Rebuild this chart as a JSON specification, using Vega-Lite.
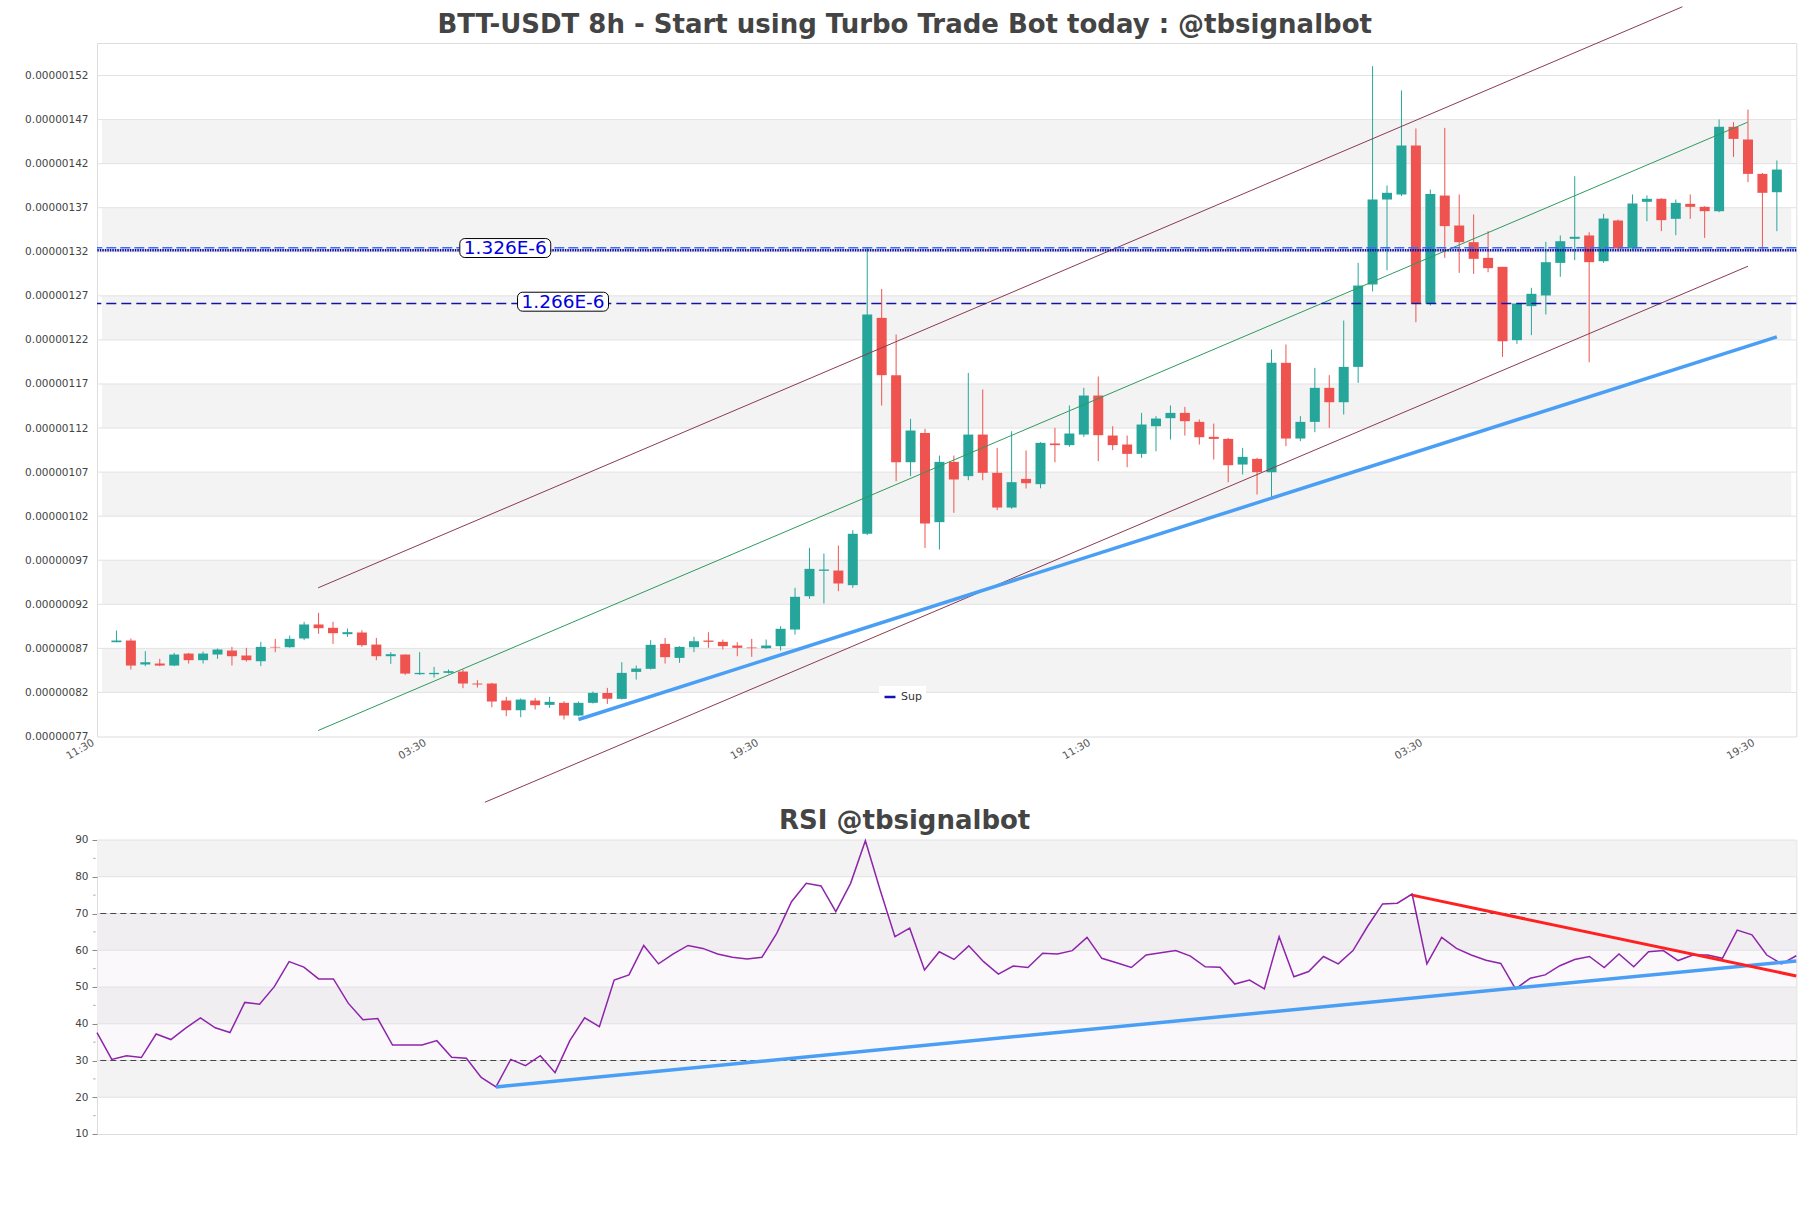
{
  "$schema": "https://vega.github.io/schema/vega-lite/v6.json",
  "background": "white",
  "padding": {"left": 24, "top": 4, "right": 14, "bottom": 10},
  "bounds": "flush",
  "spacing": 103,
  "config": {
    "view": {"stroke": "#dddddd"},
    "font": "DejaVu Sans",
    "title": {"font": "DejaVu Sans", "fontSize": 26, "fontWeight": "bold", "color": "#444444"}
  },
  "datasets": {
    "candles": [
      {"i":0,"o":8.770e-7,"h":8.902e-7,"l":8.770e-7,"c":8.789e-7},
      {"i":1,"o":8.789e-7,"h":8.812e-7,"l":8.460e-7,"c":8.505e-7},
      {"i":2,"o":8.517e-7,"h":8.668e-7,"l":8.498e-7,"c":8.543e-7},
      {"i":3,"o":8.528e-7,"h":8.581e-7,"l":8.498e-7,"c":8.505e-7},
      {"i":4,"o":8.505e-7,"h":8.649e-7,"l":8.498e-7,"c":8.630e-7},
      {"i":5,"o":8.641e-7,"h":8.649e-7,"l":8.528e-7,"c":8.566e-7},
      {"i":6,"o":8.566e-7,"h":8.664e-7,"l":8.528e-7,"c":8.641e-7},
      {"i":7,"o":8.630e-7,"h":8.698e-7,"l":8.581e-7,"c":8.687e-7},
      {"i":8,"o":8.675e-7,"h":8.717e-7,"l":8.505e-7,"c":8.611e-7},
      {"i":9,"o":8.619e-7,"h":8.706e-7,"l":8.551e-7,"c":8.566e-7},
      {"i":10,"o":8.554e-7,"h":8.774e-7,"l":8.498e-7,"c":8.717e-7},
      {"i":11,"o":8.717e-7,"h":8.808e-7,"l":8.657e-7,"c":8.710e-7},
      {"i":12,"o":8.713e-7,"h":8.846e-7,"l":8.706e-7,"c":8.808e-7},
      {"i":13,"o":8.812e-7,"h":9.001e-7,"l":8.793e-7,"c":8.971e-7},
      {"i":14,"o":8.971e-7,"h":9.103e-7,"l":8.865e-7,"c":8.929e-7},
      {"i":15,"o":8.933e-7,"h":9.001e-7,"l":8.751e-7,"c":8.872e-7},
      {"i":16,"o":8.861e-7,"h":8.925e-7,"l":8.831e-7,"c":8.884e-7},
      {"i":17,"o":8.880e-7,"h":8.906e-7,"l":8.717e-7,"c":8.736e-7},
      {"i":18,"o":8.743e-7,"h":8.819e-7,"l":8.566e-7,"c":8.611e-7},
      {"i":19,"o":8.611e-7,"h":8.657e-7,"l":8.524e-7,"c":8.634e-7},
      {"i":20,"o":8.630e-7,"h":8.630e-7,"l":8.399e-7,"c":8.414e-7},
      {"i":21,"o":8.407e-7,"h":8.657e-7,"l":8.399e-7,"c":8.422e-7},
      {"i":22,"o":8.407e-7,"h":8.490e-7,"l":8.369e-7,"c":8.422e-7},
      {"i":23,"o":8.422e-7,"h":8.460e-7,"l":8.414e-7,"c":8.441e-7},
      {"i":24,"o":8.437e-7,"h":8.460e-7,"l":8.248e-7,"c":8.301e-7},
      {"i":25,"o":8.301e-7,"h":8.339e-7,"l":8.256e-7,"c":8.290e-7},
      {"i":26,"o":8.301e-7,"h":8.309e-7,"l":8.032e-7,"c":8.097e-7},
      {"i":27,"o":8.108e-7,"h":8.150e-7,"l":7.930e-7,"c":7.998e-7},
      {"i":28,"o":7.998e-7,"h":8.131e-7,"l":7.919e-7,"c":8.119e-7},
      {"i":29,"o":8.108e-7,"h":8.138e-7,"l":8.006e-7,"c":8.055e-7},
      {"i":30,"o":8.059e-7,"h":8.150e-7,"l":8.025e-7,"c":8.093e-7},
      {"i":31,"o":8.082e-7,"h":8.101e-7,"l":7.893e-7,"c":7.938e-7},
      {"i":32,"o":7.938e-7,"h":8.097e-7,"l":7.930e-7,"c":8.082e-7},
      {"i":33,"o":8.082e-7,"h":8.210e-7,"l":8.074e-7,"c":8.195e-7},
      {"i":34,"o":8.195e-7,"h":8.252e-7,"l":8.070e-7,"c":8.127e-7},
      {"i":35,"o":8.127e-7,"h":8.543e-7,"l":8.120e-7,"c":8.422e-7},
      {"i":36,"o":8.433e-7,"h":8.505e-7,"l":8.346e-7,"c":8.471e-7},
      {"i":37,"o":8.468e-7,"h":8.793e-7,"l":8.460e-7,"c":8.740e-7},
      {"i":38,"o":8.751e-7,"h":8.819e-7,"l":8.528e-7,"c":8.600e-7},
      {"i":39,"o":8.592e-7,"h":8.725e-7,"l":8.536e-7,"c":8.717e-7},
      {"i":40,"o":8.713e-7,"h":8.831e-7,"l":8.657e-7,"c":8.781e-7},
      {"i":41,"o":8.789e-7,"h":8.883e-7,"l":8.706e-7,"c":8.774e-7},
      {"i":42,"o":8.774e-7,"h":8.800e-7,"l":8.687e-7,"c":8.725e-7},
      {"i":43,"o":8.732e-7,"h":8.770e-7,"l":8.611e-7,"c":8.706e-7},
      {"i":44,"o":8.710e-7,"h":8.808e-7,"l":8.604e-7,"c":8.702e-7},
      {"i":45,"o":8.702e-7,"h":8.800e-7,"l":8.694e-7,"c":8.732e-7},
      {"i":46,"o":8.725e-7,"h":8.952e-7,"l":8.675e-7,"c":8.922e-7},
      {"i":47,"o":8.914e-7,"h":9.387e-7,"l":8.857e-7,"c":9.285e-7},
      {"i":48,"o":9.292e-7,"h":9.840e-7,"l":9.262e-7,"c":9.602e-7},
      {"i":49,"o":9.580e-7,"h":9.776e-7,"l":9.209e-7,"c":9.595e-7},
      {"i":50,"o":9.583e-7,"h":9.867e-7,"l":9.349e-7,"c":9.436e-7},
      {"i":51,"o":9.417e-7,"h":1.0041e-6,"l":9.387e-7,"c":1.0000e-6},
      {"i":52,"o":1.0000e-6,"h":1.3248e-6,"l":9.985e-7,"c":1.2488e-6},
      {"i":53,"o":1.2450e-6,"h":1.2779e-6,"l":1.1456e-6,"c":1.1800e-6},
      {"i":54,"o":1.1800e-6,"h":1.2261e-6,"l":1.0597e-6,"c":1.0812e-6},
      {"i":55,"o":1.0812e-6,"h":1.1304e-6,"l":1.0654e-6,"c":1.1172e-6},
      {"i":56,"o":1.1145e-6,"h":1.1191e-6,"l":9.840e-7,"c":1.0117e-6},
      {"i":57,"o":1.0132e-6,"h":1.0888e-6,"l":9.822e-7,"c":1.0816e-6},
      {"i":58,"o":1.0816e-6,"h":1.0888e-6,"l":1.0238e-6,"c":1.0616e-6},
      {"i":59,"o":1.0654e-6,"h":1.1826e-6,"l":1.0608e-6,"c":1.1126e-6},
      {"i":60,"o":1.1126e-6,"h":1.1637e-6,"l":1.0608e-6,"c":1.0692e-6},
      {"i":61,"o":1.0692e-6,"h":1.0975e-6,"l":1.0268e-6,"c":1.0298e-6},
      {"i":62,"o":1.0298e-6,"h":1.1164e-6,"l":1.0283e-6,"c":1.0586e-6},
      {"i":63,"o":1.0623e-6,"h":1.0945e-6,"l":1.0514e-6,"c":1.0574e-6},
      {"i":64,"o":1.0563e-6,"h":1.1040e-6,"l":1.0517e-6,"c":1.1032e-6},
      {"i":65,"o":1.1025e-6,"h":1.1202e-6,"l":1.0812e-6,"c":1.1006e-6},
      {"i":66,"o":1.1006e-6,"h":1.1456e-6,"l":1.0986e-6,"c":1.1138e-6},
      {"i":67,"o":1.1126e-6,"h":1.1656e-6,"l":1.1100e-6,"c":1.1569e-6},
      {"i":68,"o":1.1569e-6,"h":1.1785e-6,"l":1.0824e-6,"c":1.1119e-6},
      {"i":69,"o":1.1115e-6,"h":1.1221e-6,"l":1.0949e-6,"c":1.1006e-6},
      {"i":70,"o":1.1013e-6,"h":1.1115e-6,"l":1.0756e-6,"c":1.0907e-6},
      {"i":71,"o":1.0907e-6,"h":1.1372e-6,"l":1.0862e-6,"c":1.1240e-6},
      {"i":72,"o":1.1221e-6,"h":1.1335e-6,"l":1.0937e-6,"c":1.1308e-6},
      {"i":73,"o":1.1312e-6,"h":1.1456e-6,"l":1.1070e-6,"c":1.1372e-6},
      {"i":74,"o":1.1372e-6,"h":1.1440e-6,"l":1.1115e-6,"c":1.1278e-6},
      {"i":75,"o":1.1270e-6,"h":1.1297e-6,"l":1.1013e-6,"c":1.1096e-6},
      {"i":76,"o":1.1100e-6,"h":1.1251e-6,"l":1.0843e-6,"c":1.1077e-6},
      {"i":77,"o":1.1077e-6,"h":1.1089e-6,"l":1.0585e-6,"c":1.0778e-6},
      {"i":78,"o":1.0786e-6,"h":1.0975e-6,"l":1.0673e-6,"c":1.0873e-6},
      {"i":79,"o":1.0850e-6,"h":1.0862e-6,"l":1.0446e-6,"c":1.0699e-6},
      {"i":80,"o":1.0699e-6,"h":1.2091e-6,"l":1.0408e-6,"c":1.1940e-6},
      {"i":81,"o":1.1940e-6,"h":1.2148e-6,"l":1.0994e-6,"c":1.1081e-6},
      {"i":82,"o":1.1081e-6,"h":1.1335e-6,"l":1.1051e-6,"c":1.1270e-6},
      {"i":83,"o":1.1270e-6,"h":1.1883e-6,"l":1.1153e-6,"c":1.1656e-6},
      {"i":84,"o":1.1656e-6,"h":1.1800e-6,"l":1.1202e-6,"c":1.1493e-6},
      {"i":85,"o":1.1493e-6,"h":1.2420e-6,"l":1.1353e-6,"c":1.1894e-6},
      {"i":86,"o":1.1894e-6,"h":1.3074e-6,"l":1.1713e-6,"c":1.2817e-6},
      {"i":87,"o":1.2828e-6,"h":1.5306e-6,"l":1.2750e-6,"c":1.3793e-6},
      {"i":88,"o":1.3793e-6,"h":1.3952e-6,"l":1.2991e-6,"c":1.3869e-6},
      {"i":89,"o":1.3850e-6,"h":1.5030e-6,"l":1.3831e-6,"c":1.4406e-6},
      {"i":90,"o":1.4406e-6,"h":1.4599e-6,"l":1.2401e-6,"c":1.2613e-6},
      {"i":91,"o":1.2613e-6,"h":1.3907e-6,"l":1.2590e-6,"c":1.3857e-6},
      {"i":92,"o":1.3838e-6,"h":1.4606e-6,"l":1.3131e-6,"c":1.3491e-6},
      {"i":93,"o":1.3498e-6,"h":1.3850e-6,"l":1.2961e-6,"c":1.3309e-6},
      {"i":94,"o":1.3309e-6,"h":1.3623e-6,"l":1.2950e-6,"c":1.3120e-6},
      {"i":95,"o":1.3131e-6,"h":1.3434e-6,"l":1.2968e-6,"c":1.3014e-6},
      {"i":96,"o":1.3029e-6,"h":1.3029e-6,"l":1.2008e-6,"c":1.2185e-6},
      {"i":97,"o":1.2197e-6,"h":1.2620e-6,"l":1.2155e-6,"c":1.2613e-6},
      {"i":98,"o":1.2583e-6,"h":1.2791e-6,"l":1.2254e-6,"c":1.2723e-6},
      {"i":99,"o":1.2704e-6,"h":1.3313e-6,"l":1.2488e-6,"c":1.3082e-6},
      {"i":100,"o":1.3074e-6,"h":1.3385e-6,"l":1.2916e-6,"c":1.3320e-6},
      {"i":101,"o":1.3347e-6,"h":1.4058e-6,"l":1.3105e-6,"c":1.3370e-6},
      {"i":102,"o":1.3385e-6,"h":1.3422e-6,"l":1.1947e-6,"c":1.3082e-6},
      {"i":103,"o":1.3093e-6,"h":1.3630e-6,"l":1.3074e-6,"c":1.3577e-6},
      {"i":104,"o":1.3555e-6,"h":1.3566e-6,"l":1.3226e-6,"c":1.3237e-6},
      {"i":105,"o":1.3237e-6,"h":1.3850e-6,"l":1.3226e-6,"c":1.3748e-6},
      {"i":106,"o":1.3767e-6,"h":1.3839e-6,"l":1.3547e-6,"c":1.3801e-6},
      {"i":107,"o":1.3801e-6,"h":1.3808e-6,"l":1.3434e-6,"c":1.3559e-6},
      {"i":108,"o":1.3574e-6,"h":1.3793e-6,"l":1.3388e-6,"c":1.3755e-6},
      {"i":109,"o":1.3744e-6,"h":1.3850e-6,"l":1.3574e-6,"c":1.3710e-6},
      {"i":110,"o":1.3710e-6,"h":1.3717e-6,"l":1.3358e-6,"c":1.3661e-6},
      {"i":111,"o":1.3661e-6,"h":1.4701e-6,"l":1.3649e-6,"c":1.4618e-6},
      {"i":112,"o":1.4618e-6,"h":1.4671e-6,"l":1.4277e-6,"c":1.4481e-6},
      {"i":113,"o":1.4474e-6,"h":1.4814e-6,"l":1.3990e-6,"c":1.4084e-6},
      {"i":114,"o":1.4084e-6,"h":1.4095e-6,"l":1.3233e-6,"c":1.3869e-6},
      {"i":115,"o":1.3876e-6,"h":1.4236e-6,"l":1.3434e-6,"c":1.4133e-6}
    ],
    "bands": [
      {"lo":8.2e-7,"hi":8.7e-7},{"lo":9.2e-7,"hi":9.7e-7},{"lo":1.02e-6,"hi":1.07e-6},
      {"lo":1.12e-6,"hi":1.17e-6},{"lo":1.22e-6,"hi":1.27e-6},{"lo":1.32e-6,"hi":1.37e-6},
      {"lo":1.42e-6,"hi":1.47e-6}
    ],
    "grid": [
      {"p":8.2e-7},{"p":8.7e-7},{"p":9.2e-7},{"p":9.7e-7},{"p":1.02e-6},{"p":1.07e-6},
      {"p":1.12e-6},{"p":1.17e-6},{"p":1.22e-6},{"p":1.27e-6},{"p":1.32e-6},{"p":1.37e-6},
      {"p":1.42e-6},{"p":1.47e-6},{"p":1.52e-6}
    ],
    "chanOuter": [
      {"line":"upper","i":13.97,"p":9.387e-7},{"line":"upper","i":108.46,"p":1.598e-6},
      {"line":"lower","i":25.52,"p":6.954e-7},{"line":"lower","i":113.0,"p":1.3036e-6}
    ],
    "chanMid": [
      {"i":13.97,"p":7.768e-7},{"i":112.97,"p":1.467e-6}
    ],
    "sup": [
      {"i":32,"p":7.893e-7},{"i":115,"p":1.2235e-6}
    ],
    "lvlA": [{"name":"1.326E-6","p":1.3232e-6}],
    "lvlB": [{"name":"1.266E-6","p":1.2614e-6}],
    "tags": [
      {"t":"1.326E-6","i0":23.78,"i1":30.08,"p0":1.3135e-6,"p1":1.3350e-6,"ic":26.93,"pc":1.3240e-6},
      {"t":"1.266E-6","i0":27.78,"i1":34.08,"p0":1.2526e-6,"p1":1.2741e-6,"ic":30.93,"pc":1.2632e-6}
    ],
    "rsi": [
      {"j":0,"r":37.6},{"j":1,"r":30.3},{"j":2,"r":31.3},{"j":3,"r":30.8},{"j":4,"r":37.2},
      {"j":5,"r":35.7},{"j":6,"r":38.8},{"j":7,"r":41.6},{"j":8,"r":38.9},{"j":9,"r":37.6},
      {"j":10,"r":45.8},{"j":11,"r":45.3},{"j":12,"r":50.1},{"j":13,"r":56.9},{"j":14,"r":55.4},
      {"j":15,"r":52.2},{"j":16,"r":52.2},{"j":17,"r":45.6},{"j":18,"r":41.1},{"j":19,"r":41.4},
      {"j":20,"r":34.2},{"j":21,"r":34.2},{"j":22,"r":34.2},{"j":23,"r":35.4},{"j":24,"r":30.9},
      {"j":25,"r":30.6},{"j":26,"r":25.4},{"j":27,"r":22.8},{"j":28,"r":30.3},{"j":29,"r":28.6},
      {"j":30,"r":31.3},{"j":31,"r":26.7},{"j":32,"r":35.4},{"j":33,"r":41.6},{"j":34,"r":39.2},
      {"j":35,"r":51.9},{"j":36,"r":53.3},{"j":37,"r":61.3},{"j":38,"r":56.3},{"j":39,"r":59.0},
      {"j":40,"r":61.3},{"j":41,"r":60.5},{"j":42,"r":59.0},{"j":43,"r":58.1},{"j":44,"r":57.6},
      {"j":45,"r":58.1},{"j":46,"r":64.6},{"j":47,"r":73.2},{"j":48,"r":78.2},{"j":49,"r":77.5},
      {"j":50,"r":70.5},{"j":51,"r":78.2},{"j":52,"r":89.8},{"j":53,"r":76.4},{"j":54,"r":63.7},
      {"j":55,"r":66.0},{"j":56,"r":54.6},{"j":57,"r":59.6},{"j":58,"r":57.5},{"j":59,"r":61.2},
      {"j":60,"r":56.9},{"j":61,"r":53.5},{"j":62,"r":55.7},{"j":63,"r":55.3},{"j":64,"r":59.2},
      {"j":65,"r":59.0},{"j":66,"r":59.9},{"j":67,"r":63.5},{"j":68,"r":57.8},{"j":69,"r":56.6},
      {"j":70,"r":55.3},{"j":71,"r":58.7},{"j":72,"r":59.3},{"j":73,"r":59.9},{"j":74,"r":58.4},
      {"j":75,"r":55.5},{"j":76,"r":55.4},{"j":77,"r":50.8},{"j":78,"r":51.9},{"j":79,"r":49.5},
      {"j":80,"r":63.7},{"j":81,"r":52.8},{"j":82,"r":54.2},{"j":83,"r":58.3},{"j":84,"r":56.3},
      {"j":85,"r":59.9},{"j":86,"r":66.6},{"j":87,"r":72.6},{"j":88,"r":72.8},{"j":89,"r":75.3},
      {"j":90,"r":56.3},{"j":91,"r":63.5},{"j":92,"r":60.5},{"j":93,"r":58.7},{"j":94,"r":57.3},
      {"j":95,"r":56.4},{"j":96,"r":49.5},{"j":97,"r":52.4},{"j":98,"r":53.3},{"j":99,"r":55.8},
      {"j":100,"r":57.5},{"j":101,"r":58.3},{"j":102,"r":55.3},{"j":103,"r":59.0},{"j":104,"r":55.5},
      {"j":105,"r":59.6},{"j":106,"r":59.9},{"j":107,"r":57.2},{"j":108,"r":58.7},{"j":109,"r":58.7},
      {"j":110,"r":57.8},{"j":111,"r":65.5},{"j":112,"r":64.2},{"j":113,"r":58.7},{"j":114,"r":56.3},
      {"j":115,"r":58.5}
    ],
    "rsiBands": [{"lo":80,"hi":90},{"lo":60,"hi":70},{"lo":40,"hi":50},{"lo":20,"hi":30}],
    "rsiZone": [{"lo":30,"hi":70}],
    "rsiGrid": [{"r":20},{"r":30},{"r":40},{"r":50},{"r":60},{"r":70},{"r":80},{"r":90}],
    "rsiMinor": [{"r":15},{"r":25},{"r":35},{"r":45},{"r":55},{"r":65},{"r":75},{"r":85}],
    "rsiLevels": [{"r":70},{"r":30}],
    "rsiSup": [{"j":27,"r":22.8},{"j":115,"r":57.1}],
    "rsiRes": [{"j":89,"r":75.0},{"j":115,"r":53.0}]
  },
  "vconcat": [
    {
      "width": 1699.3,
      "height": 693.5,
      "title": {"text": "BTT-USDT 8h - Start using Turbo Trade Bot today : @tbsignalbot", "dx": -42, "offset": -33},
      "layer": [
        {
          "data": {"name": "bands"},
          "mark": {"type": "rect", "fill": "#f3f3f3"},
          "encoding": {
            "x": {"datum": -1, "type": "quantitative", "title": null, "scale": {"domain": [-1, 116], "nice": false, "zero": false},
              "axis": {"title": null, "values": [-1, 22, 45, 68, 91, 114], "tickCount": 20, "labelExpr": "['11:30','03:30','19:30'][((datum.value + 1) / 23) % 3]", "labelAngle": -30, "labelAlign": "right", "labelBaseline": "middle", "labelOffset": -9, "labelFontSize": 10.5, "labelColor": "#555555", "ticks": false, "domain": false, "grid": false, "labelPadding": 5, "labelOverlap": false}},
            "x2": {"datum": 116},
            "y": {"field": "lo", "type": "quantitative", "title": null, "scale": {"domain": [7.7e-7, 1.5569e-6], "nice": false, "zero": false},
              "axis": {"title": null, "values": [7.7e-7, 8.2e-7, 8.7e-7, 9.2e-7, 9.7e-7, 1.02e-6, 1.07e-6, 1.12e-6, 1.17e-6, 1.22e-6, 1.27e-6, 1.32e-6, 1.37e-6, 1.42e-6, 1.47e-6, 1.52e-6], "tickCount": 40, "format": ".8f", "labelFontSize": 10.5, "labelColor": "#444444", "ticks": false, "domain": false, "grid": false, "labelPadding": 9, "labelOverlap": false}},
            "y2": {"field": "hi"}
          }
        },
        {
          "data": {"name": "grid"},
          "mark": {"type": "rule", "stroke": "#e2e2e2", "strokeWidth": 1},
          "encoding": {"y": {"field": "p", "type": "quantitative", "title": null}}
        },
        {
          "data": {"name": "candles"},
          "mark": {"type": "rule", "strokeWidth": 1},
          "encoding": {
            "x": {"field": "i", "type": "quantitative", "title": null},
            "y": {"field": "l", "type": "quantitative", "title": null},
            "y2": {"field": "h"},
            "color": {"condition": {"test": "datum.c >= datum.o", "value": "#26a69a"}, "value": "#ef5350"}
          }
        },
        {
          "data": {"name": "candles"},
          "mark": {"type": "bar", "width": 10},
          "encoding": {
            "x": {"field": "i", "type": "quantitative", "title": null},
            "y": {"field": "o", "type": "quantitative", "title": null},
            "y2": {"field": "c"},
            "color": {"condition": {"test": "datum.c >= datum.o", "value": "#26a69a"}, "value": "#ef5350"}
          }
        },
        {
          "data": {"name": "chanOuter"},
          "mark": {"type": "line", "stroke": "#8a3a50", "strokeWidth": 1},
          "encoding": {
            "x": {"field": "i", "type": "quantitative", "title": null},
            "y": {"field": "p", "type": "quantitative", "title": null},
            "detail": {"field": "line"}
          }
        },
        {
          "data": {"name": "chanMid"},
          "mark": {"type": "line", "stroke": "#2e9a5c", "strokeWidth": 1},
          "encoding": {
            "x": {"field": "i", "type": "quantitative", "title": null},
            "y": {"field": "p", "type": "quantitative", "title": null}
          }
        },
        {
          "data": {"name": "sup"},
          "mark": {"type": "line", "stroke": "#4a9ff5", "strokeWidth": 3.5},
          "encoding": {
            "x": {"field": "i", "type": "quantitative", "title": null},
            "y": {"field": "p", "type": "quantitative", "title": null}
          }
        },
        {
          "data": {"name": "lvlA"},
          "mark": {"type": "rule", "stroke": "#3a6df0", "strokeWidth": 1.5, "strokeDash": [10, 4], "yOffset": -1.2},
          "encoding": {"y": {"field": "p", "type": "quantitative", "title": null}}
        },
        {
          "data": {"name": "lvlA"},
          "mark": {"type": "rule", "stroke": "#0a0aa0", "strokeWidth": 2.5, "strokeDash": [1.5, 1], "yOffset": 1.2},
          "encoding": {"y": {"field": "p", "type": "quantitative", "title": null}}
        },
        {
          "data": {"name": "lvlB"},
          "mark": {"type": "rule", "strokeWidth": 1.5, "strokeDash": [10, 5]},
          "encoding": {
            "y": {"field": "p", "type": "quantitative", "title": null},
            "color": {"datum": "Sup", "type": "nominal", "scale": {"domain": ["Sup"], "range": ["#1414a8"]},
              "legend": {"title": null, "orient": "none", "legendX": 782, "legendY": 643, "fillColor": "white", "padding": 4, "symbolType": "stroke", "symbolStrokeWidth": 2.5, "symbolSize": 120, "symbolDash": [1, 0], "labelFontSize": 11, "labelColor": "#333333"}}
          }
        },
        {
          "data": {"name": "tags"},
          "mark": {"type": "rect", "fill": "white", "stroke": "black", "strokeWidth": 1, "cornerRadius": 5},
          "encoding": {
            "x": {"field": "i0", "type": "quantitative", "title": null},
            "x2": {"field": "i1"},
            "y": {"field": "p0", "type": "quantitative", "title": null},
            "y2": {"field": "p1"}
          }
        },
        {
          "data": {"name": "tags"},
          "mark": {"type": "text", "color": "#0000e0", "fontSize": 18.5, "align": "center", "baseline": "middle", "font": "DejaVu Sans"},
          "encoding": {
            "x": {"field": "ic", "type": "quantitative", "title": null},
            "y": {"field": "pc", "type": "quantitative", "title": null},
            "text": {"field": "t"}
          }
        }
      ]
    },
    {
      "width": 1699.3,
      "height": 294,
      "title": {"text": "RSI @tbsignalbot", "dx": -42, "offset": 1},
      "layer": [
        {
          "data": {"name": "rsiBands"},
          "mark": {"type": "rect", "fill": "#f3f3f3"},
          "encoding": {
            "x": {"datum": 0, "type": "quantitative", "title": null, "scale": {"domain": [0, 115], "nice": false, "zero": false}, "axis": null},
            "x2": {"datum": 115},
            "y": {"field": "lo", "type": "quantitative", "title": null, "scale": {"domain": [10, 90], "nice": false, "zero": false},
              "axis": {"title": null, "values": [10, 20, 30, 40, 50, 60, 70, 80, 90], "tickCount": 20, "labelOverlap": false, "tickSize": 5, "tickColor": "#888888", "labelFontSize": 10.5, "labelColor": "#444444", "domain": false, "grid": false, "labelPadding": 4}},
            "y2": {"field": "hi"}
          }
        },
        {
          "data": {"name": "rsiZone"},
          "mark": {"type": "rect", "fill": "#eadcee", "opacity": 0.2},
          "encoding": {
            "x": {"datum": 0, "type": "quantitative", "title": null, "axis": null},
            "x2": {"datum": 115},
            "y": {"field": "lo", "type": "quantitative", "title": null},
            "y2": {"field": "hi"}
          }
        },
        {
          "data": {"name": "rsiGrid"},
          "mark": {"type": "rule", "stroke": "#e2e2e2", "strokeWidth": 1},
          "encoding": {"y": {"field": "r", "type": "quantitative", "title": null}}
        },
        {
          "data": {"name": "rsiMinor"},
          "mark": {"type": "tick", "orient": "horizontal", "size": 2.5, "thickness": 1, "xOffset": -2.6, "color": "#888888"},
          "encoding": {
            "x": {"datum": 0, "type": "quantitative", "title": null, "axis": null},
            "y": {"field": "r", "type": "quantitative", "title": null}
          }
        },
        {
          "data": {"name": "rsiLevels"},
          "mark": {"type": "rule", "stroke": "#444444", "strokeWidth": 1, "strokeDash": [6, 4]},
          "encoding": {"y": {"field": "r", "type": "quantitative", "title": null}}
        },
        {
          "data": {"name": "rsi"},
          "mark": {"type": "line", "stroke": "#8e24aa", "strokeWidth": 1.5},
          "encoding": {
            "x": {"field": "j", "type": "quantitative", "title": null, "axis": null},
            "y": {"field": "r", "type": "quantitative", "title": null}
          }
        },
        {
          "data": {"name": "rsiSup"},
          "mark": {"type": "line", "stroke": "#4a9ff5", "strokeWidth": 3.5},
          "encoding": {
            "x": {"field": "j", "type": "quantitative", "title": null, "axis": null},
            "y": {"field": "r", "type": "quantitative", "title": null}
          }
        },
        {
          "data": {"name": "rsiRes"},
          "mark": {"type": "line", "stroke": "#ff2020", "strokeWidth": 3},
          "encoding": {
            "x": {"field": "j", "type": "quantitative", "title": null, "axis": null},
            "y": {"field": "r", "type": "quantitative", "title": null}
          }
        }
      ]
    }
  ]
}
